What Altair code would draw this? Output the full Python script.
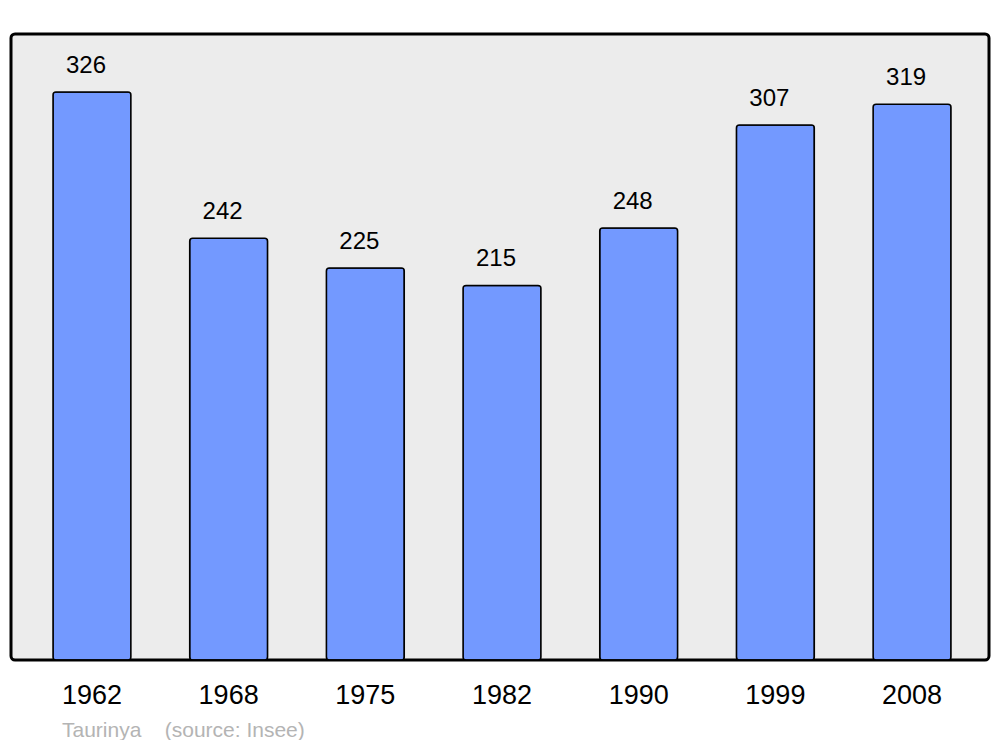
import altair as alt
import pandas as pd

years = ["1962", "1968", "1975", "1982", "1990", "1999", "2008"]
population = [326, 242, 225, 215, 248, 307, 319]
footer = ["Taurinya\u00a0\u00a0\u00a0 (source: Insee)"]

df = pd.DataFrame({"year": years, "pop": population})
FONT = "Liberation Sans, Arial, sans-serif"

x = alt.X("year:N", sort=years, title=None,
          scale=alt.Scale(range=[42, 940], paddingInner=0.43, paddingOuter=0),
          axis=alt.Axis(labelAngle=0, labelFontSize=27, labelColor="black",
                        labelFont=FONT, domain=False, ticks=False, labelPadding=22))
y = alt.Y("pop:Q", title=None, scale=alt.Scale(domain=[0, 359.3], nice=False, zero=True),
          axis=None)

bars = alt.Chart(df).mark_bar(color="#7399ff", stroke="black", strokeWidth=1.5,
                              cornerRadius=3).encode(x=x, y=y)
labels = alt.Chart(df).mark_text(font=FONT, fontSize=24, color="black",
                                 baseline="alphabetic", dx=-6, dy=-19).encode(
    x=alt.X("year:N", sort=years), y="pop:Q", text="pop:Q")
foot = alt.Chart(pd.DataFrame({"t": footer})).mark_text(
    font=FONT, fontSize=21, color="#b4b4b4", align="left", baseline="alphabetic").encode(
    x=alt.value(51), y=alt.value(703), text="t:N")

chart = alt.layer(bars, labels, foot).properties(
    width=978, height=626,
    autosize=alt.AutoSizeParams(type="none"),
    padding={"left": 3, "top": 26, "right": 3, "bottom": 80},
).configure_view(fill="#ececec", stroke="black", strokeWidth=3, cornerRadius=4)

chart.save("out.html", embed_options={"renderer": "svg", "actions": False})
